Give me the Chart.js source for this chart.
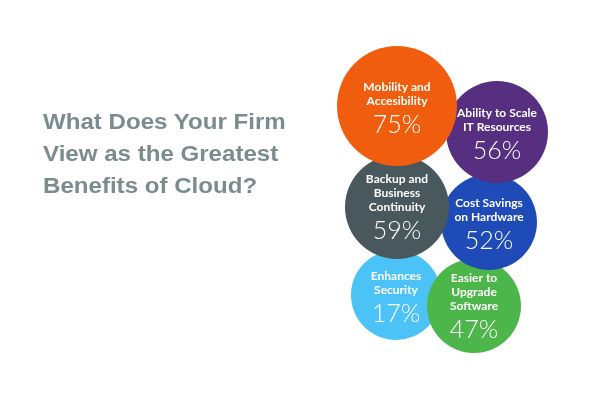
<!DOCTYPE html>
<html>
<head>
<meta charset="utf-8">
<script src="https://cdn.jsdelivr.net/npm/chart.js@4"></script>
<style>
  html, body { margin: 0; padding: 0; background: #fff; }
  #wrap { position: relative; width: 600px; height: 400px; }
  #title {
    position: absolute; left: 43px; top: 106px;
    font: bold 22px "Liberation Sans", Arial, sans-serif;
    line-height: 32px; color: #7b8c90;
    transform: scaleX(1.095); transform-origin: left top;
  }
</style>
</head>
<body>
<div id="wrap">
  <canvas id="cloudChart" width="600" height="400"></canvas>
  <div id="title">What Does Your Firm<br>View as the Greatest<br>Benefits of Cloud?</div>
</div>
<script>
// listed bottom-most bubble first, so later ones are painted on top
const categories = [
  ['Enhances', 'Security'],
  ['Easier to', 'Upgrade', 'Software'],
  ['Cost Savings', 'on Hardware'],
  ['Backup and', 'Business', 'Continuity'],
  ['Ability to Scale', 'IT Resources'],
  ['Mobility and', 'Accesibility']
];
const percents = [17, 47, 52, 59, 56, 75];
const bubbleX = [396, 474, 489, 397, 497, 397];
const bubbleY = [295, 306, 222, 207, 132, 106];
const bubbleSize = [45, 47, 48, 52, 51, 60];
const colors = ['#4cc3f7', '#4db64a', '#1f4bb8', '#48585c', '#572f80', '#f05d0e'];

document.addEventListener('DOMContentLoaded', function () {
    const labelPlugin = {
        id: 'bubbleLabels',
        afterDatasetsDraw(chart) {
            const ctx = chart.ctx;
            const meta = chart.getDatasetMeta(0);
            ctx.save();
            ctx.fillStyle = '#ffffff';
            ctx.textAlign = 'center';
            ctx.textBaseline = 'middle';
            meta.data.forEach(function (pt, i) {
                const lines = categories[i];
                const n = lines.length;
                let y = pt.y - ((n - 1) * 14 + 23) / 2 - (n > 2 ? 2 : 0);
                ctx.font = 'bold 12px Lato, "Open Sans", sans-serif';
                lines.forEach(function (line) {
                    ctx.fillText(line, pt.x, y);
                    y += 14;
                });
                ctx.font = '300 25px Lato, "Open Sans", sans-serif';
                ctx.fillText(percents[i] + '%', pt.x, y - 14 + 23);
            });
            ctx.restore();
        }
    };

    const ctx = document.getElementById('cloudChart').getContext('2d');
    new Chart(ctx, {
        type: 'bubble',
        data: {
            datasets: [{
                data: percents.map(function (p, i) {
                    return { x: bubbleX[i], y: bubbleY[i], r: bubbleSize[i] };
                }),
                backgroundColor: colors,
                borderWidth: 0,
                hoverBorderWidth: 0,
                clip: false
            }]
        },
        options: {
            responsive: false,
            animation: false,
            layout: { padding: 0, autoPadding: false },
            plugins: {
                legend: { display: false },
                tooltip: { enabled: false }
            },
            scales: {
                x: { display: false, min: 0, max: 600 },
                y: { display: false, min: 0, max: 400, reverse: true }
            }
        },
        plugins: [labelPlugin]
    });
});
</script>
</body>
</html>
